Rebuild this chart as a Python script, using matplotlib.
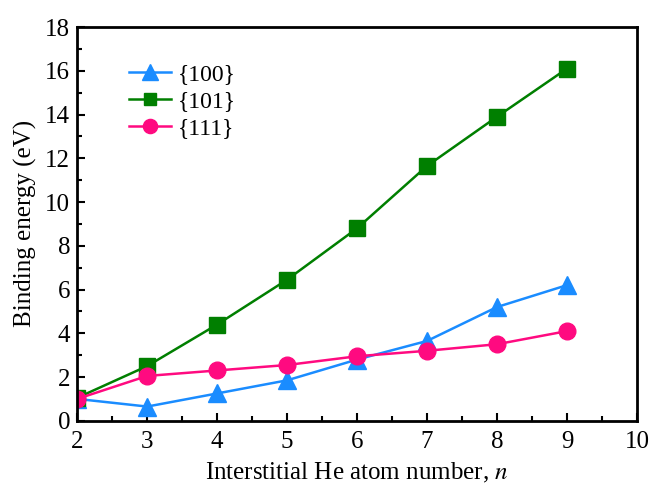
import matplotlib.pyplot as plt
from matplotlib.ticker import MultipleLocator

# datos
n = [2, 3, 4, 5, 6, 7, 8, 9]
e100 = [1.0, 0.65, 1.25, 1.85, 2.8, 3.65, 5.2, 6.2]
e101 = [1.05, 2.5, 4.4, 6.45, 8.8, 11.65, 13.9, 16.1]
e111 = [1.0, 2.05, 2.3, 2.55, 2.95, 3.2, 3.5, 4.1]

plt.rcParams['font.family'] = ['Liberation Serif', 'DejaVu Serif']
plt.rcParams['mathtext.fontset'] = 'stix'

fig = plt.figure(figsize=(6.54, 4.91), dpi=100)
ax = fig.add_axes([0.118, 0.143, 0.856, 0.802])

ax.plot(n, e100, color='#1a8cff', marker='^', markersize=13, lw=1.8, label='{100}')
ax.plot(n, e101, color='#007f00', marker='s', markersize=11, lw=1.8, label='{101}')
ax.plot(n, e111, color='#ff0a80', marker='o', markersize=12, lw=1.8, label='{111}')

ax.set_xlim(2, 10)
ax.set_ylim(0, 18)
ax.xaxis.set_major_locator(MultipleLocator(1))
ax.xaxis.set_minor_locator(MultipleLocator(0.5))
ax.yaxis.set_major_locator(MultipleLocator(2))
ax.yaxis.set_minor_locator(MultipleLocator(1))
ax.tick_params(which='both', direction='in', labelsize=18, width=1.5)
ax.tick_params(which='major', length=6)
ax.tick_params(which='minor', length=3.5)
ax.tick_params(axis='x', pad=7)
ax.tick_params(axis='y', pad=5)
for s in ax.spines.values():
    s.set_linewidth(2)

ax.set_xlabel('Interstitial He atom number, $\\mathit{n}$', fontsize=18, labelpad=6)
ax.set_ylabel('Binding energy (eV)', fontsize=18, labelpad=6)

ax.legend(loc='upper left', bbox_to_anchor=(0.075, 0.93), frameon=False, fontsize=17,
          handlelength=1.8, handletextpad=0.3, labelspacing=0.22, borderaxespad=0,
          markerscale=0.85)

fig.savefig('out.png', dpi=100)
